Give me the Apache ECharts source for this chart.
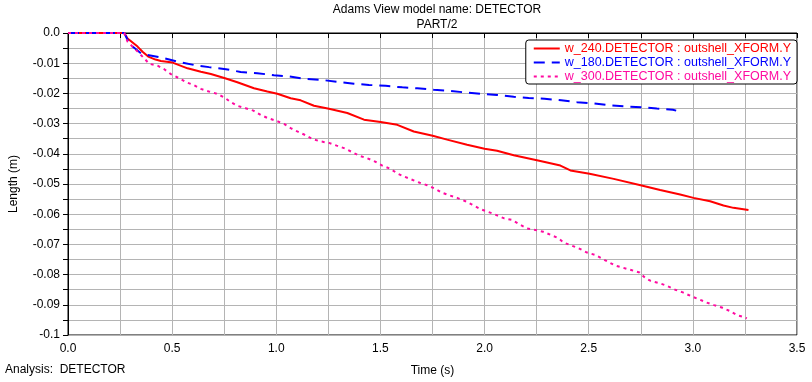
<!DOCTYPE html>
<html lang="en">
<head>
    <meta charset="UTF-8">
    <title>Adams View model name: DETECTOR</title>
    <script src="https://cdn.jsdelivr.net/npm/echarts@6.0.0/dist/echarts.min.js"></script>
</head>
<body style="margin:0;background:#fff;">
    <div id="chart" style="width: 812px; height: 382px;"></div>
    <script>
        // series names
        const seriesNames = [
            'w_240.DETECTOR : outshell_XFORM.Y',
            'w_180.DETECTOR : outshell_XFORM.Y',
            'w_300.DETECTOR : outshell_XFORM.Y'
        ];

        // [time (s), length (m)]
        const w240 = [
            [0, 0], [0.27, 0], [0.286, -0.0018], [0.334, -0.0045], [0.358, -0.0062], [0.385, -0.0078],
            [0.42, -0.0088], [0.446, -0.0093], [0.502, -0.0098], [0.574, -0.0117], [0.638, -0.0128],
            [0.686, -0.0136], [0.754, -0.015], [0.813, -0.0163], [0.893, -0.0183], [0.957, -0.0194],
            [1.005, -0.0201], [1.069, -0.0216], [1.117, -0.0223], [1.181, -0.0241], [1.253, -0.0251],
            [1.341, -0.0265], [1.421, -0.0287], [1.501, -0.0295], [1.581, -0.0304], [1.66, -0.0326],
            [1.751, -0.034], [1.82, -0.0353], [1.916, -0.037], [2.0, -0.0383], [2.06, -0.039],
            [2.14, -0.0405], [2.257, -0.0422], [2.364, -0.0439], [2.412, -0.0455], [2.504, -0.0466],
            [2.62, -0.0483], [2.754, -0.0505], [2.843, -0.052], [2.939, -0.0535], [3.003, -0.0546],
            [3.083, -0.0557], [3.147, -0.0571], [3.195, -0.0579], [3.267, -0.0586]
        ];
        const w180 = [
            [0, 0], [0.27, 0], [0.294, -0.0034], [0.31, -0.0045], [0.35, -0.0067], [0.382, -0.0073],
            [0.446, -0.0081], [0.526, -0.0095], [0.606, -0.0106], [0.677, -0.0113], [0.758, -0.012],
            [0.829, -0.0129], [0.909, -0.0133], [0.989, -0.014], [1.061, -0.0144], [1.141, -0.0152],
            [1.216, -0.0155], [1.293, -0.0162], [1.373, -0.0168], [1.445, -0.0172], [1.525, -0.0175],
            [1.605, -0.018], [1.677, -0.0183], [1.756, -0.0188], [1.828, -0.0191], [1.908, -0.0197],
            [1.98, -0.0201], [2.06, -0.0205], [2.14, -0.0211], [2.212, -0.0215], [2.288, -0.0218],
            [2.368, -0.0223], [2.444, -0.0229], [2.524, -0.0233], [2.596, -0.0239], [2.675, -0.0243],
            [2.755, -0.0246], [2.827, -0.025], [2.904, -0.0254], [2.92, -0.0257]
        ];
        const w300 = [
            [0, 0], [0.27, 0], [0.286, -0.0029], [0.326, -0.0056], [0.366, -0.0084], [0.39, -0.0102],
            [0.43, -0.0108], [0.462, -0.012], [0.494, -0.0136], [0.534, -0.015], [0.571, -0.0164],
            [0.603, -0.0172], [0.638, -0.0185], [0.678, -0.0194], [0.714, -0.0201], [0.75, -0.0213],
            [0.782, -0.0229], [0.813, -0.0241], [0.853, -0.0249], [0.89, -0.0257], [0.925, -0.0271],
            [0.96, -0.0282], [0.997, -0.029], [1.037, -0.0301], [1.069, -0.0315], [1.101, -0.0326],
            [1.136, -0.0337], [1.173, -0.0351], [1.213, -0.0359], [1.253, -0.0364], [1.29, -0.0373],
            [1.328, -0.0382], [1.36, -0.0393], [1.397, -0.0406], [1.434, -0.0414], [1.472, -0.0425],
            [1.509, -0.0439], [1.549, -0.045], [1.581, -0.0465], [1.616, -0.0476], [1.649, -0.0485],
            [1.689, -0.0496], [1.724, -0.0504], [1.764, -0.0516], [1.796, -0.0529], [1.833, -0.0538],
            [1.868, -0.0546], [1.908, -0.0557], [1.94, -0.0568], [1.98, -0.0583], [2.02, -0.0593],
            [2.057, -0.0603], [2.095, -0.0614], [2.132, -0.0619], [2.169, -0.0634], [2.204, -0.0647],
            [2.244, -0.0652], [2.281, -0.0658], [2.319, -0.0669], [2.356, -0.068], [2.38, -0.0694],
            [2.415, -0.0703], [2.452, -0.0713], [2.492, -0.0727], [2.532, -0.0735], [2.569, -0.0749],
            [2.627, -0.077], [2.664, -0.0777], [2.704, -0.0785], [2.744, -0.0793], [2.771, -0.0811],
            [2.798, -0.0821], [2.838, -0.0828], [2.875, -0.0837], [2.915, -0.085], [2.952, -0.0859],
            [2.987, -0.087], [3.027, -0.0881], [3.064, -0.0892], [3.102, -0.0901], [3.139, -0.0909],
            [3.176, -0.092], [3.211, -0.0934], [3.251, -0.0942], [3.259, -0.0945]
        ];

        const colors = ['#ff0000', '#0000ff', '#ff0aa0'];
        const dashes = ['solid', [11, 7], [3, 4]];
        const font = 'Liberation Sans, Arial, sans-serif';

        var myChart = echarts.init(document.getElementById('chart'));

        const gridColor = '#b4b4b4';

        const option = {
            animation: false,
            backgroundColor: '#fff',
            title: {
                text: 'Adams View model name: DETECTOR',
                subtext: 'PART/2',
                left: 432,
                top: -1,
                textAlign: 'center',
                itemGap: 3,
                textStyle: { fontFamily: font, fontSize: 12, fontWeight: 'normal', color: '#000' },
                subtextStyle: { fontFamily: font, fontSize: 12, color: '#000' }
            },
            grid: {
                left: 67, top: 33, right: 15, bottom: 46,
                show: true, borderColor: '#000', borderWidth: 1
            },
            legend: {
                orient: 'vertical',
                right: 15,
                top: 40,
                itemWidth: 26,
                itemHeight: 12,
                itemGap: 1,
                padding: [2, 6, 1, 7],
                backgroundColor: '#fff',
                borderColor: '#000',
                borderWidth: 1,
                borderRadius: 3,
                itemStyle: { opacity: 0 },
                textStyle: { fontFamily: font, fontSize: 12.5 },
                data: seriesNames.map((n, i) => ({ name: n, textStyle: { color: colors[i] } }))
            },
            xAxis: {
                type: 'value',
                min: 0, max: 3.5, interval: 0.5,
                name: 'Time (s)',
                nameLocation: 'middle',
                nameGap: 30,
                nameTextStyle: { fontFamily: font, fontSize: 12, color: '#000' },
                axisLine: { lineStyle: { color: '#000' } },
                axisTick: { length: 5, lineStyle: { color: '#000' } },
                minorTick: { show: true, splitNumber: 2, length: 5, lineStyle: { color: '#000' } },
                splitLine: { lineStyle: { color: gridColor } },
                minorSplitLine: { show: true, lineStyle: { color: gridColor, width: 1 } },
                axisLabel: {
                    fontFamily: font, fontSize: 12, color: '#000', margin: 8,
                    formatter: v => v.toFixed(1)
                }
            },
            yAxis: {
                type: 'value',
                min: -0.1, max: 0, interval: 0.01,
                name: 'Length (m)',
                nameLocation: 'middle',
                nameGap: 48,
                nameTextStyle: { fontFamily: font, fontSize: 12, color: '#000' },
                axisLine: { show: true, lineStyle: { color: '#000' } },
                axisTick: { show: true, length: 5, lineStyle: { color: '#000' } },
                minorTick: { show: true, splitNumber: 2, length: 5, lineStyle: { color: '#000' } },
                splitLine: { lineStyle: { color: gridColor } },
                minorSplitLine: { show: true, lineStyle: { color: gridColor, width: 1 } },
                axisLabel: {
                    fontFamily: font, fontSize: 12, color: '#000', margin: 8,
                    formatter: v => {
                        const r = Math.round(v * 100) / 100;
                        if (r === 0) return '0.0';
                        if (r === -0.1) return '-0.1';
                        return r.toFixed(2);
                    }
                }
            },
            graphic: [
                {
                    type: 'text', left: 5, top: 364,
                    style: { text: 'Analysis:  DETECTOR', font: '12px ' + font, fill: '#000' }
                }
            ],
            series: [w240, w180, w300].map((d, i) => ({
                name: seriesNames[i],
                type: 'line',
                data: d,
                symbol: 'none',
                lineStyle: { color: colors[i], width: 2, type: dashes[i] },
                itemStyle: { color: colors[i] }
            }))
        };

        myChart.setOption(option);
    </script>
</body>
</html>
